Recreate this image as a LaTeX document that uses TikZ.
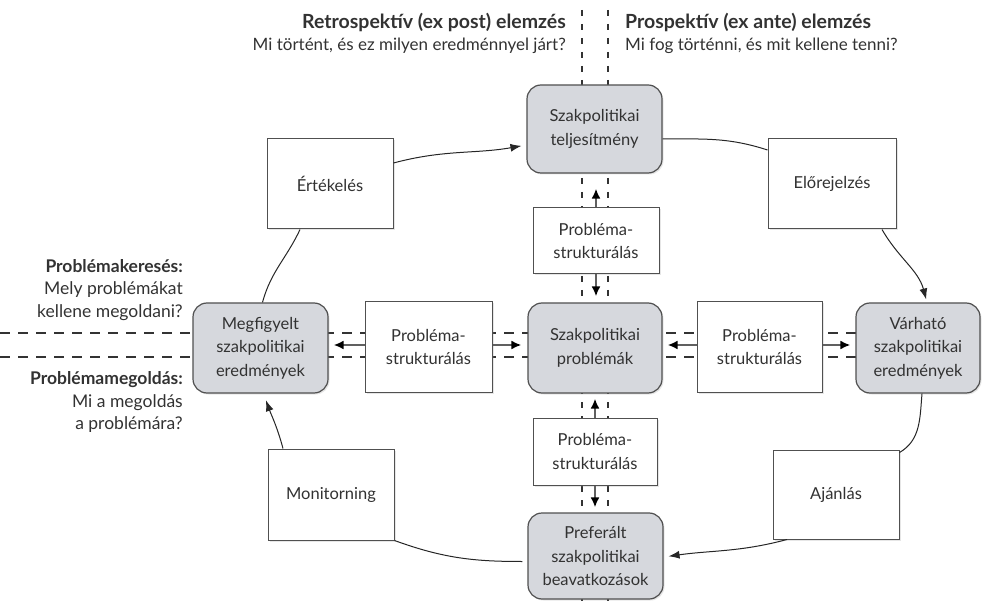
\documentclass[tikz,border=0pt]{standalone}
\usepackage{fontspec}
\setmainfont{Lato}
\usetikzlibrary{arrows.meta,shadows,calc}
\definecolor{boxgray}{RGB}{214,216,221}
\definecolor{txt}{RGB}{50,50,50}
\definecolor{edge}{RGB}{80,80,80}
\begin{document}
\begin{tikzpicture}[x=1pt,y=-1pt,
  txtstyle/.style={text=txt, font=\fontsize{16.5}{23.5}\selectfont, align=center},
  rbox/.style={txtstyle, draw=edge, line width=1.2pt, fill=boxgray, rounded corners=14pt, inner sep=0pt,
    drop shadow={opacity=0.2, shadow xshift=1.5pt, shadow yshift=-1.5pt}},
  sbox/.style={txtstyle, draw=edge, line width=1pt, fill=white, inner sep=0pt,
    drop shadow={opacity=0.2, shadow xshift=1.5pt, shadow yshift=-1.5pt}},
  conn/.style={line width=1pt, draw=black!85},
  tip/.style={-{Latex[length=11pt,width=8pt]}},
  parr/.style={draw=gray!75!black, line width=2pt, -{Latex[length=10pt,width=9pt,color=black]}},
  guide/.style={draw=black!80, line width=1.4pt},
  hdr/.style={text=txt, inner sep=0pt, font=\fontsize{17}{22}\selectfont},
  side/.style={text=txt, inner sep=0pt, font=\fontsize{17.5}{22.5}\selectfont}]
\useasboundingbox (0,0) rectangle (982,601);
% guide lines
\draw[guide, dash pattern=on 6pt off 8pt] (582,10) -- (582,601);
\draw[guide, dash pattern=on 6pt off 8pt] (608,10) -- (608,601);
\draw[guide, dash pattern=on 10pt off 8pt] (0,333) -- (856,333);
\draw[guide, dash pattern=on 10pt off 8pt] (0,357) -- (856,357);
% main rounded boxes
\node[rbox, minimum width=135pt, minimum height=88pt] (top) at (594.5,129) {Szakpolitikai\\teljesítmény};
\node[rbox, minimum width=134pt, minimum height=90pt] (center) at (595,348) {Szakpolitikai\\problémák};
\node[rbox, minimum width=135pt, minimum height=90pt] (left) at (260.5,348) {Megfigyelt\\szakpolitikai\\eredmények};
\node[rbox, minimum width=124pt, minimum height=90pt] (right) at (918,348) {Várható\\szakpolitikai\\eredmények};
\node[rbox, minimum width=135pt, minimum height=86pt] (bottom) at (595.5,556) {Preferált\\szakpolitikai\\beavatkozások};
% problem structuring boxes
\node[sbox, minimum width=126pt, minimum height=66pt] (pTop) at (596,241) {Probléma-\\strukturálás};
\node[sbox, minimum width=127pt, minimum height=90pt] (pLeft) at (428.5,347) {Probléma-\\strukturálás};
\node[sbox, minimum width=125pt, minimum height=90pt] (pRight) at (759.5,347) {Probléma-\\strukturálás};
\node[sbox, minimum width=124pt, minimum height=67pt] (pBottom) at (595,451.5) {Probléma-\\strukturálás};
% cycle boxes
\node[sbox, minimum width=126pt, minimum height=90pt] (ert) at (330,184) {Értékelés};
\node[sbox, minimum width=128pt, minimum height=90pt] (elo) at (832,184) {Előrejelzés};
\node[sbox, minimum width=126pt, minimum height=91pt] (mon) at (331,494.5) {Monitorning};
\node[sbox, minimum width=126pt, minimum height=89pt] (aja) at (836,494.5) {Ajánlás};
% headers
\node[hdr, anchor=east, align=right] (retro) at (566,33) {{\fontsize{19.5}{22}\selectfont\bfseries Retrospektív (ex post) elemzés}\\Mi történt, és ez milyen eredménnyel járt?};
\node[hdr, anchor=west, align=left] (prosp) at (625,33) {{\fontsize{19.5}{22}\selectfont\bfseries Prospektív (ex ante) elemzés}\\Mi fog történni, és mit kellene tenni?};
\node[side, anchor=east, align=right] (keres) at (183,290) {\textbf{Problémakeresés:}\\Mely problémákat\\kellene megoldani?};
\node[side, anchor=east, align=right] (megold) at (183,402) {\textbf{Problémamegoldás:}\\Mi a megoldás\\a problémára?};
% cycle connectors
\draw[conn, tip, shorten >=5pt] ([yshift=21pt]ert.east) to[out=15, in=190] ([yshift=-16pt]top.west);
\draw[conn] ([yshift=-10pt]top.east) to[out=0, in=162] ([yshift=34pt]elo.west);
\draw[conn, tip, shorten >=3pt] ([xshift=50pt]elo.south) to[out=-60, in=105] ([xshift=9pt]right.north);
\draw[conn] ([xshift=4pt]right.south) to[out=-95, in=30] ([yshift=42pt]aja.east);
\draw[conn, tip, shorten >=5pt] ([xshift=-49pt]aja.south) to[out=195, in=8] ([yshift=-1pt]bottom.east);
\draw[conn, shorten <=5pt] ([yshift=-5.5pt]bottom.west) to[out=180, in=-20] (mon.south east);
\draw[conn, tip, shorten >=7pt] ([xshift=-48pt]mon.north) to[out=105, in=-70] ([xshift=3pt]left.south);
\draw[conn] ([xshift=2pt]left.north) to[out=75, in=-115] ([xshift=-30pt]ert.south);
% problem structuring arrows
\draw[parr, shorten >=15pt] (pTop.north) -- (pTop.north |- top.south);
\draw[parr, shorten >=6pt] (pTop.south) -- (pTop.south |- center.north);
\draw[parr, shorten >=5pt] (pBottom.north) -- (pBottom.north |- center.south);
\draw[parr, shorten >=5pt] (pBottom.south) -- (pBottom.south |- bottom.north);
\draw[parr, shorten >=5pt] ([yshift=2pt]pLeft.west) -- ([yshift=2pt]pLeft.west -| left.east);
\draw[parr, shorten >=6pt] ([yshift=2pt]pLeft.east) -- ([yshift=2pt]pLeft.east -| center.west);
\draw[parr, shorten >=5pt] ([yshift=2pt]pRight.west) -- ([yshift=2pt]pRight.west -| center.east);
\draw[parr, shorten >=5pt] ([yshift=2pt]pRight.east) -- ([yshift=2pt]pRight.east -| right.west);
\end{tikzpicture}
\end{document}
